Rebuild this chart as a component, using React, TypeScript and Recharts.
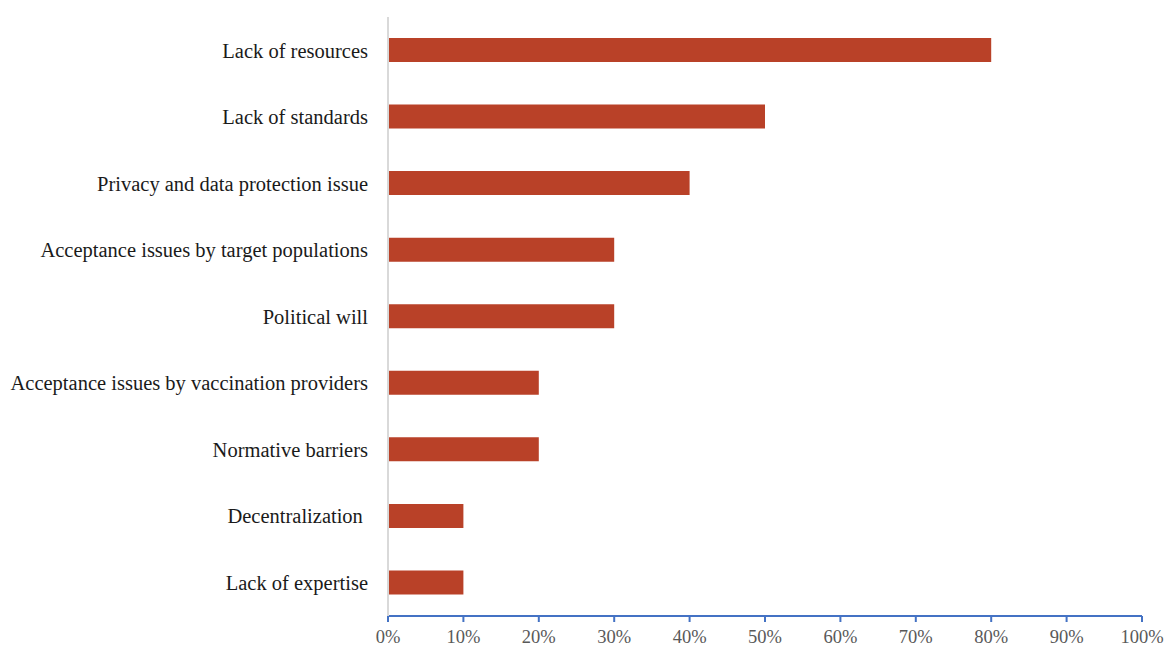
import { BarChart, Bar, XAxis, YAxis } from 'recharts';

const categories = [
  'Lack of resources',
  'Lack of standards',
  'Privacy and data protection issue',
  'Acceptance issues by target populations',
  'Political will',
  'Acceptance issues by vaccination providers',
  'Normative barriers',
  'Decentralization ',
  'Lack of expertise',
];
const shares = [80, 50, 40, 30, 30, 20, 20, 10, 10];
const xTicks = [0, 10, 20, 30, 40, 50, 60, 70, 80, 90, 100];

const data = categories.map((name, i) => ({ name, share: shares[i] }));

const font = '"Liberation Serif", serif';

export default function App() {
  return (
    <div style={{ position: 'absolute', left: 0, top: 0, background: '#fff' }}>
      <BarChart
        width={1165}
        height={650}
        data={data}
        layout="vertical"
        margin={{ top: 17, right: 23, bottom: 0, left: 0 }}
        barCategoryGap={21}
      >
        <XAxis
          type="number"
          domain={[0, 100]}
          ticks={xTicks}
          tickFormatter={(v) => `${v}%`}
          axisLine={{ stroke: '#4472C4', strokeWidth: 2 }}
          tickLine={{ stroke: '#4472C4', strokeWidth: 2 }}
          tickSize={6}
          tickMargin={8}
          height={34}
          tick={{ fill: '#595959', fontSize: 18.5, fontFamily: font }}
          interval={0}
        />
        <YAxis
          type="category"
          dataKey="name"
          width={388}
          axisLine={{ stroke: '#d9d9d9', strokeWidth: 2 }}
          tickLine={false}
          tickSize={0}
          tickMargin={20}
          tick={{ fill: '#1a1a1a', fontSize: 20.5, fontFamily: font, style: { whiteSpace: 'pre' } }}
          interval={0}
        />
        <Bar dataKey="share" fill="#B94128" barSize={24} isAnimationActive={false} />
      </BarChart>
    </div>
  );
}
